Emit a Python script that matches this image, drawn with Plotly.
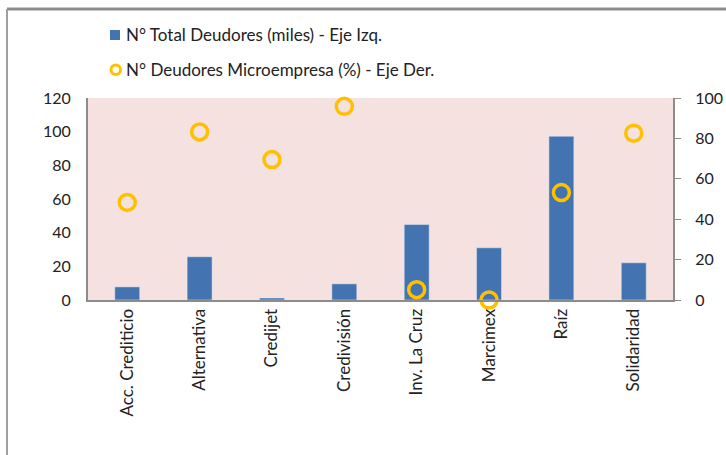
import plotly.graph_objects as go

categories = ["Acc. Crediticio", "Alternativa", "Credijet", "Credivisión",
              "Inv. La Cruz", "Marcimex", "Raíz", "Solidaridad"]
total_deudores = [7.8, 25.7, 1.2, 9.6, 44.8, 31.0, 97.3, 22.1]
pct_micro = [48.3, 83.2, 69.5, 95.9, 5.1, 0.0, 53.2, 82.6]
left_ticks = [0, 20, 40, 60, 80, 100, 120]
right_ticks = [0, 20, 40, 60, 80, 100]
series_names = ["N° Total Deudores (miles) - Eje Izq.",
                "N° Deudores Microempresa (%) - Eje Der."]

FONT = "Lato, 'Open Sans', sans-serif"
W, H = 726, 455
ML, MR, MT, MB = 88, 53, 98, 155
pw, ph = W - ML - MR, H - MT - MB
FS = 17
BLUE, GOLD = "#4373B0", "#FFC000"

def px_x(x):
    return (x - ML) / pw

def px_y(y):
    return 1 - (y - MT) / ph

fig = go.Figure()
fig.add_trace(go.Bar(
    x=categories, y=total_deudores, name=series_names[0],
    marker=dict(color=BLUE), width=0.345, yaxis="y"))
fig.add_trace(go.Scatter(
    x=categories, y=pct_micro, name=series_names[1],
    mode="markers", yaxis="y2", cliponaxis=False,
    marker=dict(symbol="circle-open", size=16, color=GOLD,
                line=dict(width=3.5, color=GOLD))))

fig.update_layout(
    width=W, height=H,
    margin=dict(l=ML, r=MR, t=MT, b=MB, autoexpand=False),
    paper_bgcolor="white", plot_bgcolor="#F5E1E0",
    font=dict(family=FONT, size=FS, color="#222"),
    showlegend=False,
    xaxis=dict(type="category", tickangle=-90, showline=True, linecolor="#8C8C8C",
               linewidth=2, ticks="", showgrid=False,
               tickfont=dict(family=FONT, size=FS, color="#222")),
    yaxis=dict(range=[0, 120], tickvals=left_ticks, showgrid=False, showline=True,
               linecolor="#8C8C8C", linewidth=2, ticks="", zeroline=False,
               tickfont=dict(family=FONT, size=FS - 1, color="#222"), ticklabelstandoff=12),
    yaxis2=dict(range=[0, 100], tickvals=right_ticks, overlaying="y", side="right",
                showgrid=False, showline=True, linecolor="#8C8C8C", linewidth=2,
                ticks="outside", ticklen=6, tickcolor="#8C8C8C", tickwidth=1,
                zeroline=False, ticklabelstandoff=11,
                tickfont=dict(family=FONT, size=FS - 1, color="#222")),
    bargap=0.65,
)

# manual legend
fig.add_shape(type="rect", xref="paper", yref="paper",
              x0=px_x(110), x1=px_x(120), y0=px_y(40), y1=px_y(30),
              fillcolor=BLUE, line=dict(width=0))
fig.add_shape(type="circle", xref="paper", yref="paper",
              x0=px_x(111), x1=px_x(120.5), y0=px_y(74.5), y1=px_y(65),
              fillcolor="rgba(0,0,0,0)", line=dict(color=GOLD, width=3))
for name, yc in zip(series_names, [35, 70]):
    fig.add_annotation(text=name, xref="paper", yref="paper", x=px_x(124), y=px_y(yc),
                       xanchor="left", yanchor="middle", showarrow=False,
                       font=dict(family=FONT, size=FS, color="#222"))

# outer chart border (top and left edges visible)
bx = px_x(7)
by = px_y(9)
fig.add_shape(type="line", xref="paper", yref="paper", x0=bx, x1=1 + MR / pw + 0.05,
              y0=by, y1=by, line=dict(color="#8C8C8C", width=3))
fig.add_shape(type="line", xref="paper", yref="paper", x0=bx, x1=bx,
              y0=by, y1=-MB / ph - 0.05, line=dict(color="#A0A0A0", width=2))

fig.write_html("out.html", config={"displayModeBar": False},
               post_script="document.body.style.margin='0';")
